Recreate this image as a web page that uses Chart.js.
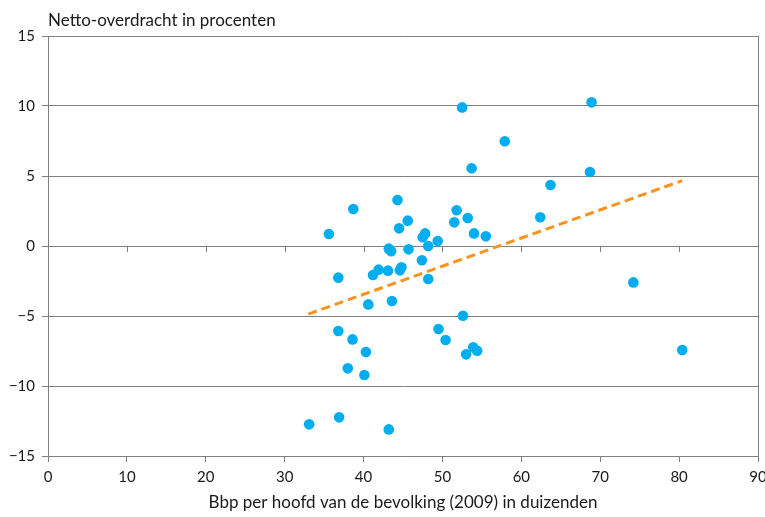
<!DOCTYPE html>
<html><head><meta charset="utf-8">
<script src="https://cdn.jsdelivr.net/npm/chart.js@4/dist/chart.umd.min.js"></script>
<style>html,body{margin:0;padding:0;background:#fff}#wrap{width:765px;height:517px}</style>
</head><body><div id="wrap"><canvas id="c" width="765" height="517"></canvas></div>
<script>
const chartTitle = 'Netto-overdracht in procenten';
const xAxisTitle = 'Bbp per hoofd van de bevolking (2009) in duizenden';
const gdp = [52.5,57.9,53.7,44.3,38.7,35.6,51.8,53.2,51.5,45.6,44.5,47.8,47.5,54.0,55.5,49.4,48.2,43.2,43.5,45.7,47.4,
  41.9,41.2,43.1,44.6,44.8,36.8,48.2,40.6,43.6,52.6,36.8,38.6,40.3,49.5,50.4,53.0,53.9,54.4,38.0,40.1,33.1,36.9,43.2,
  68.9,68.7,63.7,62.4,74.2,80.4];
const transfer = [9.9,7.48,5.55,3.29,2.64,0.86,2.55,2.0,1.69,1.81,1.26,0.9,0.62,0.9,0.69,0.36,0.0,-0.19,-0.38,-0.24,-1.02,
  -1.69,-2.07,-1.76,-1.74,-1.52,-2.26,-2.36,-4.17,-3.93,-4.98,-6.07,-6.67,-7.57,-5.93,-6.71,-7.74,-7.24,-7.48,-8.74,-9.21,-12.74,-12.24,-13.1,
  10.26,5.29,4.36,2.05,-2.6,-7.43];
const trendX = [33.0, 80.4];
const trendY = [-4.86, 4.67];
const xTicks = [0,10,20,30,40,50,60,70,80,90];
const yTicks = [-15,-10,-5,0,5,10,15];

const FONT = 'Lato, "Open Sans", sans-serif';
const GREY = '#808080';
const TEXT = '#1a1a1a';

const extras = {
  id: 'extras',
  afterDraw(chart) {
    const ctx = chart.ctx, xs = chart.scales.x, ys = chart.scales.y;
    const y0 = ys.getPixelForValue(0);
    ctx.save();
    ctx.strokeStyle = GREY; ctx.lineWidth = 1;
    xTicks.forEach(v => {
      const px = Math.round(xs.getPixelForValue(v)) + 0.5;
      ctx.beginPath(); ctx.moveTo(px, y0); ctx.lineTo(px, y0 + 6); ctx.stroke();
    });
    ctx.fillStyle = TEXT;
    ctx.font = '17px ' + FONT;
    ctx.textBaseline = 'middle'; ctx.textAlign = 'left';
    ctx.fillText(chartTitle, chart.chartArea.left, 21);
    ctx.restore();
  }
};

new Chart(document.getElementById('c'), {
  type: 'scatter',
  data: {
    datasets: [
      { type: 'line', data: trendX.map((x,i)=>({x, y: trendY[i]})), borderColor: '#F7941D', borderWidth: 3,
        borderDash: [9,5], pointRadius: 0, fill: false, order: 2 },
      { data: gdp.map((x,i)=>({x, y: transfer[i]})), backgroundColor: '#00AEEF', borderWidth: 0,
        pointRadius: 5.3, pointHoverRadius: 5.3, order: 1 }
    ]
  },
  plugins: [extras],
  options: {
    responsive: false, animation: false, devicePixelRatio: 1,
    layout: { padding: { top: 36, right: 0, left: 0, bottom: 0 } },
    plugins: { legend: { display: false }, tooltip: { enabled: false } },
    scales: {
      x: {
        type: 'linear', min: 0, max: 90,
        afterBuildTicks: s => { s.ticks = xTicks.map(v => ({value: v})); },
        afterFit: s => { s.height = 61; s.paddingRight = 7; s.paddingLeft = 0; },
        grid: { color: c => (c.tick && c.tick.value === 90) ? GREY : 'rgba(0,0,0,0)', tickColor: GREY, tickLength: 6, drawOnChartArea: true },
        border: { color: GREY },
        ticks: { color: TEXT, font: { family: FONT, size: 15 }, padding: 6, maxRotation: 0 },
        title: { display: true, text: xAxisTitle, color: TEXT, font: { family: FONT, size: 17 }, padding: { top: 6, bottom: 4 } }
      },
      y: {
        type: 'linear', min: -15, max: 15,
        afterBuildTicks: s => { s.ticks = yTicks.map(v => ({value: v})); },
        afterFit: s => { s.width = 48; },
        grid: { color: GREY, tickColor: GREY, tickLength: 6 },
        border: { color: GREY },
        ticks: { color: TEXT, font: { family: FONT, size: 15 }, padding: 7, callback: v => String(v).replace('-', '\u2212') }
      }
    }
  }
});
</script></body></html>
